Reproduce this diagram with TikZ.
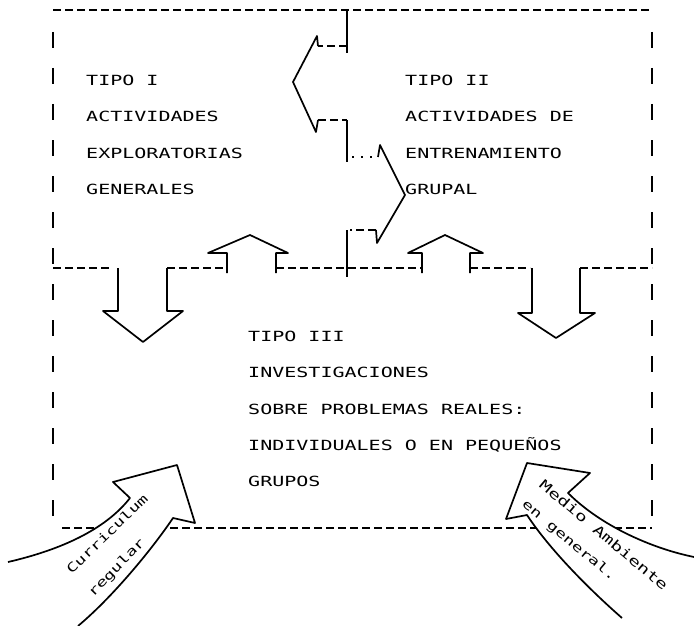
\documentclass[tikz,border=0pt]{standalone}
\usepackage{fontspec}
\usepackage{tikz}
\usetikzlibrary{positioning}
\newfontfamily\printfont[FakeStretch=1.43]{DejaVu Sans Mono}

\begin{document}
\begin{tikzpicture}[
  x=1pt, y=-1pt,
  node distance=26pt,
  hdash/.style={line width=1.7pt, dash pattern=on 8pt off 4pt},
  vdash/.style={line width=1.8pt, dash pattern=on 16pt off 20pt},
  outline/.style={line width=1.7pt, line join=round},
  tipotext/.style={font=\printfont\fontsize{14}{16}\selectfont,
    inner sep=0pt, text height=10pt, text depth=0pt, anchor=north west},
  nextrow/.style={tipotext, below=of #1.south west, anchor=north west},
  arrowtext/.style={font=\printfont\fontsize{12.5}{14}\selectfont, inner sep=0pt}
]
  \useasboundingbox (0,0) rectangle (694,626);

  % outer frame and middle line
  \draw[hdash] (53,10) -- (650,10);
  \draw[vdash] (53,32) -- (53,530);
  \draw[vdash] (652,32) -- (652,530);
  \draw[hdash] (62,528) -- (652,528);
  \draw[hdash] (53,268) -- (112,268);
  \draw[hdash] (167,268) -- (227,268);
  \draw[hdash] (276,268) -- (422,268);
  \draw[hdash] (470,268) -- (530,268);
  \draw[hdash] (580,268) -- (652,268);

  % divider between tipo I and tipo II
  \draw[outline] (347,10) -- (347,53);
  \draw[outline] (347,120) -- (347,162);
  \draw[outline] (347,230) -- (347,277);

  % arrow to tipo I
  \draw[hdash] (347,46) -- (318,46);
  \draw[outline] (318,46) -- (317,36) -- (293,82) -- (316,132) -- (318,120);
  \draw[hdash] (318,120) -- (347,120);

  % arrow to tipo II
  \draw[outline, dash pattern=on 2pt off 7pt] (352,157) -- (378,157);
  \draw[outline] (378,157) -- (380,145) -- (405,195) -- (377,243) -- (376,230);
  \draw[hdash] (376,230) -- (350,230);

  % up arrows from tipo III
  \draw[outline] (227,273) -- (227,253) -- (208,253) -- (250,235) -- (288,253)
    -- (276,253) -- (276,273);
  \draw[outline] (422,273) -- (422,253) -- (408,253) -- (445,235) -- (483,253)
    -- (470,253) -- (470,273);

  % down arrows to tipo III
  \draw[outline] (118,268) -- (118,311) -- (103,311) -- (143,342) -- (183,311)
    -- (167,311) -- (167,268);
  \draw[outline] (532,268) -- (532,313) -- (518,313) -- (556,338) -- (595,313)
    -- (580,313) -- (580,268);

  % curved arrows from outside
  \coordinate (cr1) at (8,562);
  \coordinate (cr2) at (130,498);
  \coordinate (cr3) at (113,482);
  \coordinate (cr4) at (177,465);
  \coordinate (cr5) at (195,523);
  \coordinate (cr6) at (173,518);
  \coordinate (cr7) at (78,626);
  \draw[outline, fill=white] (cr1) .. controls (60,550) and (105,530) .. (cr2)
    -- (cr3) -- (cr4) -- (cr5) -- (cr6)
    .. controls (155,545) and (115,595) .. (cr7);

  \coordinate (ma1) at (694,557);
  \coordinate (ma2) at (568,493);
  \coordinate (ma3) at (590,473);
  \coordinate (ma4) at (527,463);
  \coordinate (ma5) at (506,519);
  \coordinate (ma6) at (527,515);
  \coordinate (ma7) at (622,618);
  \draw[outline, fill=white] (ma1) .. controls (650,548) and (600,525) .. (ma2)
    -- (ma3) -- (ma4) -- (ma5) -- (ma6)
    .. controls (550,550) and (590,590) .. (ma7);

  \node[arrowtext, rotate=44] (curric) at (107,534) {Curriculum};
  \node[arrowtext, rotate=46] (regular) at (117,568) {regular};
  \node[arrowtext, rotate=-40, font=\printfont\fontsize{13.5}{15}\selectfont]
    (medio) at (604,535) {Medio Ambiente};
  \node[arrowtext, rotate=-40] (engeneral) at (569,541) {en general.};

  % the three kinds of activity
  \node[tipotext] (tipoI) at (86,75) {TIPO I};
  \node[nextrow=tipoI] (actI) {ACTIVIDADES};
  \node[nextrow=actI] (explo) {EXPLORATORIAS};
  \node[nextrow=explo] (gener) {GENERALES};

  \node[tipotext] (tipoII) at (405,75) {TIPO II};
  \node[nextrow=tipoII] (actII) {ACTIVIDADES DE};
  \node[nextrow=actII] (entre) {ENTRENAMIENTO};
  \node[nextrow=entre] (grupal) {GRUPAL};

  \node[tipotext] (tipoIII) at (248,331) {TIPO III};
  \node[nextrow=tipoIII] (invest) {INVESTIGACIONES};
  \node[nextrow=invest] (sobre) {SOBRE PROBLEMAS REALES:};
  \node[nextrow=sobre] (indiv) {INDIVIDUALES O EN PEQUEÑOS};
  \node[nextrow=indiv] (grupos) {GRUPOS};
\end{tikzpicture}
\end{document}
